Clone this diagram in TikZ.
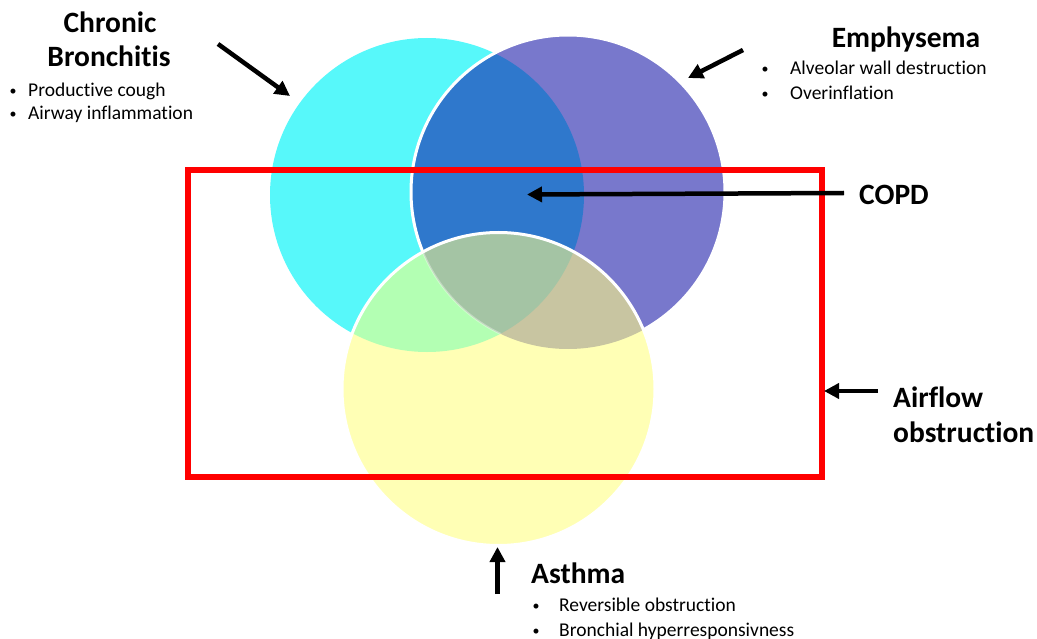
\documentclass[tikz,border=0pt]{standalone}
\usepackage{fontspec}
\setmainfont[Ligatures={NoCommon}]{Carlito}
\usetikzlibrary{arrows.meta}
\definecolor{cCyan}{HTML}{57F8FA}
\definecolor{cPurple}{HTML}{7878CC}
\definecolor{cBlue}{HTML}{2F78CC}
\definecolor{cYellow}{HTML}{FFFFB5}
\definecolor{cGreen}{HTML}{B3FFB3}
\definecolor{cTan}{HTML}{C8C5A1}
\definecolor{cGrey}{HTML}{A4C4A4}
\definecolor{cRed}{HTML}{FF0000}
\tikzset{
  title/.style={font=\bfseries\fontsize{29.5}{34}\selectfont, inner sep=0pt, anchor=base},
  item/.style={font=\fontsize{19.5}{22}\selectfont, inner sep=0pt, anchor=base west},
  dot/.style={font=\fontsize{14}{16}\selectfont, inner sep=0pt, anchor=base},
  pointer/.style={line width=4.5pt, -{Triangle[length=15pt,width=15pt]}},
}
\begin{document}
\begin{tikzpicture}[x=1pt,y=-1pt]
\useasboundingbox (0,0) rectangle (1037,639);
% circles
\def\R{157}
\coordinate (cc) at (427,195);
\coordinate (pc) at (568,192);
\coordinate (yc) at (498.5,389);
\fill[cCyan] (cc) circle (\R);
\fill[cPurple] (pc) circle (\R);
\begin{scope}
  \clip (cc) circle (\R);
  \fill[cBlue] (pc) circle (\R);
\end{scope}
\draw[white, line width=3pt] (pc) circle (\R);
\fill[cYellow] (yc) circle (156.5);
\begin{scope}
  \clip (yc) circle (156.5);
  \fill[cGreen] (cc) circle (\R);
  \fill[cTan] (pc) circle (\R);
  \clip (cc) circle (\R);
  \fill[cGrey] (pc) circle (\R);
\end{scope}
\begin{scope}
  \clip (yc) circle (156.5);
  \clip (cc) circle (\R);
  \draw[white, opacity=0.35, line width=2pt] (pc) circle (\R);
\end{scope}
\draw[white, line width=3pt] (yc) circle (156.5);
% red box
\node[draw=cRed, line width=6pt, inner sep=0pt, outer sep=0pt, minimum width=634pt, minimum height=306pt, anchor=north west] (box) at (187.5,170.5) {};
% texts
\node[title] (cb1) at (110,33) {Chronic};
\node[title] (cb2) at (109,67) {Bronchitis};
\node[dot] (cbd1) at (13,96) {•};
\node[item] (cbi1) at (28,97) {Productive cough};
\node[dot] (cbd2) at (13,119) {•};
\node[item] (cbi2) at (28,120) {Airway inflammation};
\node[title] (em) at (906,48) {Emphysema};
\node[dot] (emd1) at (765,74) {•};
\node[item] (emi1) at (790,75) {Alveolar wall destruction};
\node[dot] (emd2) at (765,99) {•};
\node[item] (emi2) at (790,100) {Overinflation};
\node[title, anchor=base west] (copd) at (859,205) {COPD};
\node[title, anchor=base west] (af1) at (893,407) {Airflow};
\node[title, anchor=base west] (af2) at (893,442) {obstruction};
\node[title, anchor=base west] (as) at (531,583) {Asthma};
\node[dot] (asd1) at (536,610) {•};
\node[item] (asi1) at (559,611) {Reversible obstruction};
\node[dot] (asd2) at (536,635) {•};
\node[item] (asi2) at (559,636) {Bronchial hyperresponsivness};
% arrows
\coordinate (cbT) at (218,44);  \coordinate (cbH) at (290,96);
\coordinate (emT) at (743,50);  \coordinate (emH) at (688,78);
\coordinate (coT) at (844,193); \coordinate (coH) at (527,194.5);
\coordinate (afT) at (878,391); \coordinate (afH) at (824,391);
\coordinate (asT) at (497.5,594); \coordinate (asH) at (497.5,547);
\draw[pointer] (cbT) -- (cbH);
\draw[pointer] (emT) -- (emH);
\draw[pointer] (coT) -- (coH);
\draw[pointer] (afT) -- (afH);
\draw[pointer] (asT) -- (asH);
\end{tikzpicture}
\end{document}
